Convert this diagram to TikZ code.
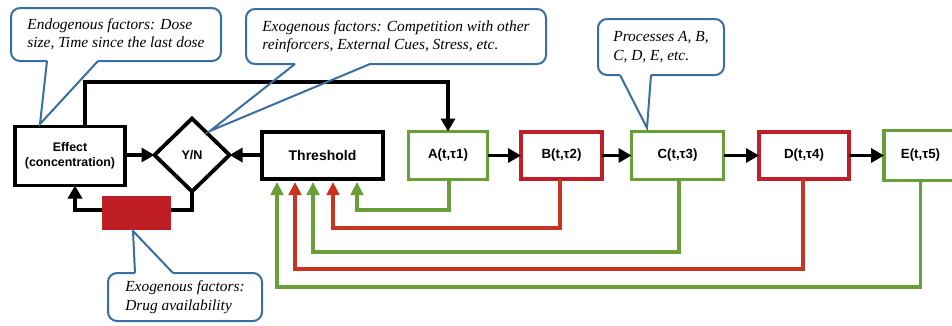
\documentclass[tikz,border=0pt]{standalone}
\usepackage{fontspec}
\setmainfont{Liberation Serif}
\setsansfont{Liberation Sans}
\usetikzlibrary{arrows.meta,shapes.geometric}
\definecolor{procgreen}{RGB}{106,158,58}
\definecolor{procred}{RGB}{192,30,40}
\definecolor{linered}{RGB}{200,52,32}
\definecolor{callblue}{RGB}{56,110,160}
\definecolor{blockred}{RGB}{190,30,36}

\begin{document}
\begin{tikzpicture}[x=1pt,y=-1pt,
  every node/.style={inner sep=0pt,outer sep=0pt},
  blkbox/.style={draw=black,line width=3.8pt,fill=white,align=center,
    font=\sffamily\bfseries\fontsize{12.4}{14.5}\selectfont},
  decision/.style={diamond,draw=black,line width=3.8pt,fill=white,aspect=1,
    font=\sffamily\bfseries\fontsize{12.6}{14}\selectfont},
  procbox/.style={fill=white,font=\sffamily\bfseries\fontsize{13.3}{15}\selectfont},
  gbox/.style={procbox,draw=procgreen,line width=3.2pt},
  rbox/.style={procbox,draw=procred,line width=4.4pt},
  blkarrow/.style={draw=black,line width=3.8pt,-{Triangle[length=13pt,width=14pt]}},
  fbline/.style={line width=3.2pt,-{Triangle[length=13pt,width=12.5pt]}},
  gfb/.style={fbline,draw=procgreen},
  rfb/.style={fbline,draw=linered},
  callbox/.style={draw=callblue,line width=2pt,rounded corners=9pt,fill=white,
    align=left,font=\itshape\fontsize{15.4}{18.5}\selectfont},
  calltail/.style={draw=callblue,line width=2pt},
  gapcover/.style={draw=white,line width=3.5pt}
]
\useasboundingbox (0,0) rectangle (952,325);

% main blocks
\node[blkbox,minimum width=110pt,minimum height=59pt] (effect) at (70,156) {Effect\\(concentration)};
\node[decision,minimum width=75pt,minimum height=73pt] (yn) at (192,155) {Y/N};
\node[blkbox,minimum width=121pt,minimum height=47pt,
  font=\sffamily\bfseries\fontsize{14}{16}\selectfont] (thr) at (322.5,155.5) {Threshold};

% processes
\node[gbox,minimum width=79pt,minimum height=48pt] (A) at (448,155.5) {A(t,τ1)};
\node[rbox,minimum width=81pt,minimum height=47pt] (B) at (561.5,155.5) {B(t,τ2)};
\node[gbox,minimum width=92pt,minimum height=48pt] (C) at (677.5,155.5) {C(t,τ3)};
\node[rbox,minimum width=90pt,minimum height=47pt] (D) at (804,155.5) {D(t,τ4)};
\node[gbox,minimum width=73pt,minimum height=50pt] (E) at (920.5,155.5) {E(t,τ5)};

% chain of processes
\draw[blkarrow] (A) -- (B);
\draw[blkarrow] (B) -- (C);
\draw[blkarrow] (C) -- (D);
\draw[blkarrow] (D) -- (E);

% comparison
\draw[blkarrow] (effect.east |- yn) -- (yn.west);
\draw[blkarrow] (thr.west |- yn) -- (yn.east);

% effect drives the first process
\coordinate (topy) at (0,82);
\draw[blkarrow] ([xshift=15pt]effect.north) -- ([xshift=15pt]effect.north |- topy) -| (A.north);

% decision loops back to the effect
\coordinate (loopy) at (0,210);
\draw[blkarrow] (yn.south) -- (yn.south |- loopy) -| ([xshift=5pt]effect.south);
\node[fill=blockred,minimum width=69pt,minimum height=34pt] (drug) at (136.5,213) {};

% feedback of every process to the threshold
\coordinate (tipy) at (0,182);
\coordinate (fa) at (357,210);
\coordinate (fb) at (333,228);
\coordinate (fc) at (313,252);
\coordinate (fd) at (295,269);
\coordinate (fe) at (277,287);
\draw[gfb] ([xshift=1pt]A.south) |- (fa) -- (fa |- tipy);
\draw[rfb] ([xshift=-1.5pt]B.south) |- (fb) -- (fb |- tipy);
\draw[gfb] ([xshift=1.5pt]C.south) |- (fc) -- (fc |- tipy);
\draw[rfb] ([xshift=-1pt]D.south) |- (fd) -- (fd |- tipy);
\draw[gfb] (E.south) |- (fe) -- (fe |- tipy);

% callouts
\node[callbox,minimum width=210pt,minimum height=53pt] (endo) at (116,34.5)
  {Endogenous factors: Dose\\size, Time since the last dose};
\node[callbox,minimum width=300pt,minimum height=55pt] (exo) at (396,36.5)
  {Exogenous factors: Competition with other\\reinforcers, External Cues, Stress, etc.};
\node[callbox,minimum width=126pt,minimum height=56pt] (procs) at (661,47)
  {Processes A, B,\\C, D, E, etc.};
\node[callbox,minimum width=154pt,minimum height=48pt] (avail) at (185,297)
  {Exogenous factors:\\Drug availability};

% callout pointers
\coordinate (e1) at (47,61);  \coordinate (e2) at (98,61);  \coordinate (etip) at (40,124);
\coordinate (x1) at (295,64); \coordinate (x2) at (370,64); \coordinate (xtip) at (210,131);
\coordinate (p1) at (620,75); \coordinate (p2) at (651,75); \coordinate (ptip) at (647,128);
\coordinate (a1) at (135,273); \coordinate (a2) at (173,273); \coordinate (atip) at (133,231);

\draw[gapcover] (e1) -- (e2);
\draw[calltail] (e1) -- (etip) -- (e2);
\draw[gapcover] (x1) -- (x2);
\draw[calltail] (x1) -- (xtip) -- (x2);
\draw[gapcover] (p1) -- (p2);
\draw[calltail] (p1) -- (ptip) -- (p2);
\draw[gapcover] (a1) -- (a2);
\draw[calltail] (a1) -- (atip) -- (a2);
\end{tikzpicture}
\end{document}
